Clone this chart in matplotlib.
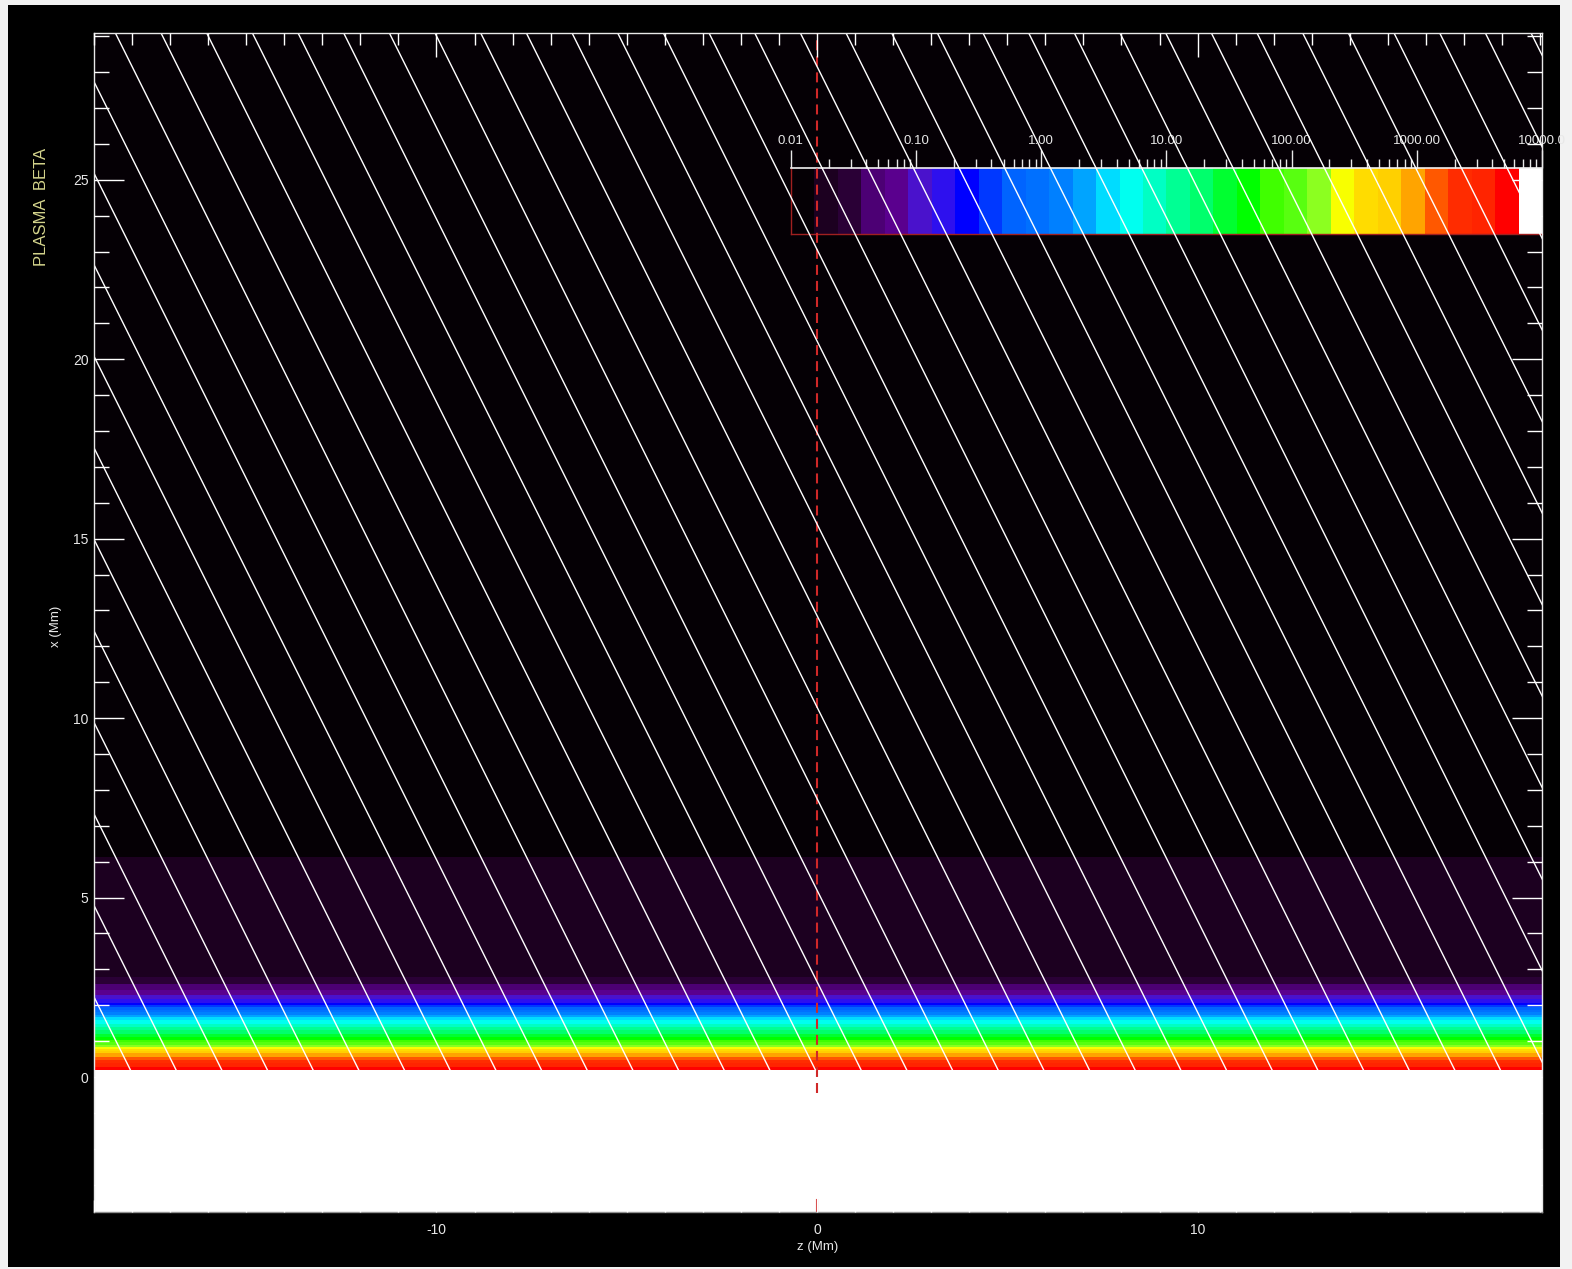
import numpy as np
import matplotlib.pyplot as plt
from matplotlib.colors import ListedColormap, BoundaryNorm
from matplotlib.patches import Rectangle
from matplotlib.ticker import MultipleLocator, LogLocator, FixedLocator, NullFormatter

plt.rcParams['font.family'] = ['Liberation Sans', 'DejaVu Sans']
plt.rcParams['axes.unicode_minus'] = False

# perfil de beta del plasma por capas (alturas x en Mm, de abajo a arriba)
layer_edges = [-4.0, 0.20, 0.29, 0.38, 0.47, 0.57, 0.67, 0.73, 0.78, 0.84, 0.90,
               0.97, 1.03, 1.12, 1.21, 1.30, 1.39, 1.48, 1.58, 1.67, 1.74, 1.81,
               1.88, 1.95, 2.01, 2.06, 2.18, 2.30, 2.42, 2.60, 2.79, 6.12, 29.5]
layer_beta = [8000, 5200, 3400, 2200, 1430, 930, 600, 390, 255, 166, 107, 70,
              45, 29, 19, 12.4, 8.1, 5.2, 3.4, 2.2, 1.43, 0.93, 0.60, 0.39,
              0.255, 0.166, 0.107, 0.070, 0.045, 0.029, 0.019, 0.012]

# niveles y colores de la barra (tabla arcoiris + blanco)
cbar_levels = np.logspace(-2, 4, 33)
band_colors = ['#050005', '#1c0020', '#2a0036', '#4c0074', '#5a008e', '#4a12cc',
               '#2e10ee', '#0000ff', '#0038ff', '#0064ff', '#0070ff', '#0080ff',
               '#00a4ff', '#00dcff', '#00fff0', '#00ffc4', '#00ff94', '#00ff6c',
               '#00ff30', '#00ff00', '#40ff00', '#58ff10', '#8cff20', '#f8ff00',
               '#ffdc00', '#ffd000', '#ffa400', '#ff5800', '#ff2c00', '#ff2400',
               '#ff0000', '#ffffff']
cbar_ticks = [0.01, 0.1, 1, 10, 100, 1000, 10000]
cbar_ticklabels = ['0.01', '0.10', '1.00', '10.00', '100.00', '1000.00', '10000.0']

# lineas de campo: pies en x=0 (Mm) e inclinacion respecto a la vertical
footpoints_z = [-17.95, -16.75, -15.55, -14.35, -13.15, -11.95, -10.75, -9.55,
                -8.35, -7.15, -5.95, -4.75, -3.55, -2.35, -1.15, 0.05, 1.25,
                2.45, 3.65, 4.85, 6.05, 7.25, 8.45, 9.65, 10.85, 12.05, 13.25,
                14.45, 15.65, 16.85, 18.05, 19.25, 20.45, 21.65, 22.85, 24.05,
                25.25, 26.45, 27.65, 28.85, 30.05, 31.25, 32.45]
inclination_deg = 25.2

z_range = [-19.0, 19.05]
x_range = [-3.76, 29.09]

W, H = 1572, 1269
fig = plt.figure(figsize=(W / 100, H / 100), dpi=100)
fig.patch.set_facecolor('#f2f2f2')
fig.patches.append(Rectangle((8 / W, 1 - 1267 / H), 1552 / W, 1262 / H,
                             transform=fig.transFigure, facecolor='black',
                             edgecolor='none', zorder=-1))

ax = fig.add_axes([94 / W, 1 - 1212 / H, 1448 / W, 1179 / H])
ax.set_facecolor('black')

cmap = ListedColormap(band_colors)
norm = BoundaryNorm(cbar_levels, ncolors=len(band_colors))

# mapa de beta (constante en z)
beta_grid = np.array(layer_beta)[:, None]
ax.pcolormesh(z_range, layer_edges, beta_grid, cmap=cmap, norm=norm, zorder=1)

# barra de color dentro del panel
cax = ax.inset_axes([0.4813, 0.8295, 0.5187, 0.056])
centers = np.sqrt(cbar_levels[:-1] * cbar_levels[1:])
cax.pcolormesh(cbar_levels, [0, 1], centers[None, :], cmap=cmap, norm=norm)
cax.set_xscale('log')
cax.set_xlim(0.01, 10000)
cax.set_ylim(0, 1)
cax.set_yticks([])
cax.xaxis.tick_top()
cax.xaxis.set_major_locator(FixedLocator(cbar_ticks))
cax.set_xticklabels(cbar_ticklabels)
cax.xaxis.set_minor_locator(LogLocator(base=10, subs=np.arange(2, 10)))
cax.xaxis.set_minor_formatter(NullFormatter())
cax.tick_params(axis='x', which='major', direction='out', length=13, width=1,
                color='#e8e8e8', labelcolor='#e8e8e8', labelsize=9.5, pad=2)
cax.tick_params(axis='x', which='minor', direction='out', length=6.5, width=1,
                color='#e8e8e8')
cax.spines['top'].set_color('#f0f0f0')
cax.spines['top'].set_linewidth(1.2)
for s in ['left', 'bottom']:
    cax.spines[s].set_color('#a02020')
    cax.spines[s].set_linewidth(1.0)
cax.spines['right'].set_visible(False)

# linea discontinua en z=0
ax.plot([0, 0], [-0.45, x_range[1]], color='#d02828', lw=1.5,
        dashes=(4.8, 2.9), zorder=6)
ax.plot([0, 0], [-3.72, -3.42], color='#d02828', lw=1.5, zorder=6)

# lineas de campo magnetico (desde la base de la capa coloreada)
t = np.tan(np.radians(inclination_deg))
h0 = layer_edges[1]
for zf in footpoints_z:
    ax.plot([zf - h0 * t, zf - 30 * t], [h0, 30], color='white', lw=1.0,
            zorder=7)

ax.set_xlim(z_range)
ax.set_ylim(x_range)
ax.xaxis.set_major_locator(FixedLocator([-10, 0, 10]))
ax.xaxis.set_minor_locator(MultipleLocator(1))
ax.yaxis.set_major_locator(MultipleLocator(5))
ax.yaxis.set_minor_locator(MultipleLocator(1))
ax.tick_params(axis='y', which='major', direction='in', length=21.6, width=1,
               left=True, right=True, color='white', labelcolor='#e8e8e8',
               labelsize=10, pad=4)
ax.tick_params(axis='y', which='minor', direction='in', length=10.8, width=1,
               left=True, right=True, color='white')
ax.tick_params(axis='x', which='major', direction='in', length=17, width=1,
               top=True, bottom=True, color='white', labelcolor='#e8e8e8',
               labelsize=10, pad=8)
ax.tick_params(axis='x', which='minor', direction='in', length=8.6, width=1,
               top=True, bottom=True, color='white')
ax.xaxis.set_zorder(8)
ax.yaxis.set_zorder(8)
for s in ax.spines.values():
    s.set_color('#e8e8e8')
    s.set_linewidth(1.0)
    s.set_zorder(8)
ax.spines['bottom'].set_color('#909090')

# textos
fig.text(42 / W, 1 - 207 / H, 'PLASMA  BETA', rotation=90, color='#d4d48c',
         fontsize=12, ha='center', va='center')
fig.text(56 / W, 1 - 626 / H, 'x (Mm)', rotation=90, color='#e8e8e8',
         fontsize=9.5, ha='center', va='center')
fig.text(818 / W, 1 - 1247 / H, 'z (Mm)', color='#e8e8e8',
         fontsize=9.5, ha='center', va='center')

plt.savefig('out.png', dpi=100, facecolor=fig.get_facecolor())
